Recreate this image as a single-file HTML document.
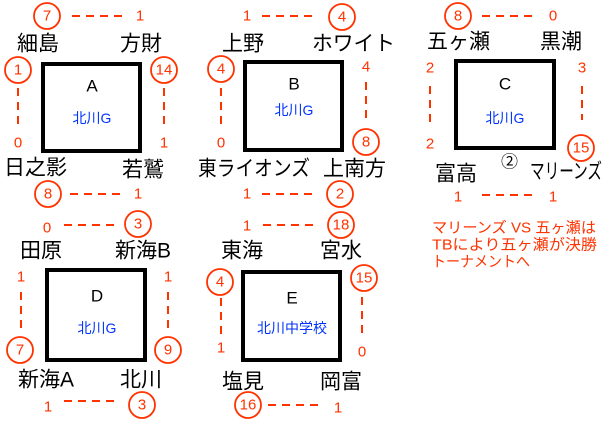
<!DOCTYPE html>
<html><head><meta charset="utf-8"><style>
html,body{margin:0;padding:0;background:#fff;}
svg{display:block;}
.t{font-family:"Liberation Sans","Noto Sans CJK JP",sans-serif;font-size:21px;fill:#000;dominant-baseline:central;}
.r{font-family:"Liberation Sans",sans-serif;font-size:15px;fill:#ff3300;text-anchor:middle;dominant-baseline:central;}
.l{font-family:"Liberation Sans",sans-serif;font-size:17px;fill:#000;text-anchor:middle;dominant-baseline:central;}
.b{font-family:"Liberation Sans","Noto Sans CJK JP",sans-serif;font-size:14px;fill:#0033ff;text-anchor:middle;dominant-baseline:central;}
.n{font-family:"Liberation Sans","Noto Sans CJK JP",sans-serif;font-size:15px;fill:#ff3300;dominant-baseline:central;}
circle{fill:none;stroke:#ff3300;stroke-width:1.8;}
.d{stroke:#ff3300;stroke-width:2;stroke-dasharray:8,6;fill:none;}
rect{fill:none;stroke:#000;stroke-width:4;}
</style></head><body>
<svg width="607" height="427" viewBox="0 0 607 427">
<!-- A -->
<rect x="43" y="64" width="97" height="87"/>
<text class="l" x="92" y="86">A</text><text class="b" x="92" y="118">北川G</text>
<circle cx="47" cy="16" r="13"/><text class="r" x="47" y="16">7</text>
<line class="d" x1="72" y1="16" x2="124" y2="16"/><text class="r" x="140" y="16">1</text>
<text class="t" x="17" y="44">細島</text><text class="t" x="120" y="44">方財</text>
<circle cx="18" cy="70" r="13"/><text class="r" x="18" y="70">1</text>
<line class="d" x1="18" y1="88" x2="18" y2="128"/><text class="r" x="18" y="143">0</text>
<circle cx="164" cy="70" r="13"/><text class="r" x="164" y="70">14</text>
<line class="d" x1="164" y1="88" x2="164" y2="128"/><text class="r" x="164" y="143">1</text>
<text class="t" x="4" y="168">日之影</text><text class="t" x="122" y="170">若鷲</text>
<circle cx="48" cy="194" r="13"/><text class="r" x="48" y="194">8</text>
<line class="d" x1="70" y1="194" x2="122" y2="194"/><text class="r" x="138" y="194">1</text>
<!-- B -->
<rect x="245" y="62" width="97" height="88"/>
<text class="l" x="294" y="84">B</text><text class="b" x="294" y="110">北川G</text>
<text class="r" x="247" y="16">1</text><line class="d" x1="262" y1="16" x2="314" y2="16"/>
<circle cx="342" cy="17" r="13"/><text class="r" x="342" y="17">4</text>
<text class="t" x="222" y="44">上野</text><text class="t" x="312" y="44" textLength="83" lengthAdjust="spacingAndGlyphs">ホワイト</text>
<circle cx="221" cy="69" r="13"/><text class="r" x="221" y="69">4</text>
<line class="d" x1="221" y1="88" x2="221" y2="128"/><text class="r" x="221" y="143">0</text>
<text class="r" x="366" y="67">4</text><line class="d" x1="366" y1="82" x2="366" y2="120"/>
<circle cx="366" cy="142" r="13"/><text class="r" x="366" y="142">8</text>
<text class="t" x="198" y="169" textLength="112" lengthAdjust="spacingAndGlyphs">東ライオンズ</text><text class="t" x="323" y="169">上南方</text>
<text class="r" x="247" y="194">1</text><line class="d" x1="262" y1="194" x2="314" y2="194"/>
<circle cx="340" cy="194" r="13"/><text class="r" x="340" y="194">2</text>
<!-- C -->
<rect x="456" y="61" width="98" height="87"/>
<text class="l" x="505" y="84">C</text><text class="b" x="505" y="118">北川G</text>
<circle cx="458" cy="16" r="13"/><text class="r" x="458" y="16">8</text>
<line class="d" x1="482" y1="16" x2="532" y2="16"/><text class="r" x="553" y="16">0</text>
<text class="t" x="427" y="42">五ヶ瀬</text><text class="t" x="540" y="42">黒潮</text>
<text class="r" x="430" y="68">2</text><line class="d" x1="430" y1="86" x2="430" y2="122"/><text class="r" x="430" y="144">2</text>
<text class="r" x="582" y="68">3</text><line class="d" x1="582" y1="86" x2="582" y2="120"/>
<circle cx="581" cy="148" r="13"/><text class="r" x="581" y="148">15</text>
<text class="t" x="435" y="174">富高</text>
<text class="t" x="501" y="162" style="font-size:17px">②</text>
<text class="t" x="530" y="172" textLength="72" lengthAdjust="spacingAndGlyphs">マリーンズ</text>
<text class="r" x="458" y="197">1</text><line class="d" x1="482" y1="195" x2="532" y2="195"/><text class="r" x="553" y="197">1</text>
<text class="n" x="432" y="228" textLength="164" lengthAdjust="spacingAndGlyphs">マリーンズ  VS  五ヶ瀬は</text>
<text class="n" x="432" y="245" textLength="165" lengthAdjust="spacingAndGlyphs">TBにより五ヶ瀬が決勝</text>
<text class="n" x="432" y="262" textLength="98" lengthAdjust="spacingAndGlyphs">トーナメントへ</text>
<!-- D -->
<rect x="47" y="270" width="98" height="90"/>
<text class="l" x="97" y="296">D</text><text class="b" x="97" y="328">北川G</text>
<text class="r" x="47" y="228">0</text><line class="d" x1="64" y1="225" x2="118" y2="225"/>
<circle cx="138" cy="224" r="13"/><text class="r" x="138" y="224">3</text>
<text class="t" x="20" y="251">田原</text><text class="t" x="115" y="251">新海B</text>
<text class="r" x="21" y="277">1</text><line class="d" x1="21" y1="292" x2="21" y2="332"/>
<circle cx="20" cy="350" r="13"/><text class="r" x="20" y="350">7</text>
<text class="r" x="168" y="277">1</text><line class="d" x1="168" y1="292" x2="168" y2="332"/>
<circle cx="168" cy="350" r="13"/><text class="r" x="168" y="350">9</text>
<text class="t" x="18" y="380">新海A</text><text class="t" x="120" y="380">北川</text>
<text class="r" x="48" y="407">1</text><line class="d" x1="64" y1="401" x2="116" y2="401"/>
<circle cx="142" cy="405" r="13"/><text class="r" x="142" y="405">3</text>
<!-- E -->
<rect x="243" y="272" width="97" height="88"/>
<text class="l" x="292" y="298">E</text><text class="b" x="292" y="328">北川中学校</text>
<text class="r" x="247" y="226">1</text><line class="d" x1="263" y1="225" x2="315" y2="225"/>
<circle cx="341" cy="225" r="13"/><text class="r" x="341" y="225">18</text>
<text class="t" x="221" y="251">東海</text><text class="t" x="320" y="251">宮水</text>
<circle cx="220" cy="282" r="13"/><text class="r" x="220" y="282">4</text>
<line class="d" x1="221" y1="298" x2="221" y2="334"/><text class="r" x="221" y="348">1</text>
<circle cx="364" cy="278" r="13"/><text class="r" x="364" y="278">15</text>
<line class="d" x1="362" y1="297" x2="362" y2="335"/><text class="r" x="362" y="352">0</text>
<text class="t" x="222" y="382">塩見</text><text class="t" x="320" y="382">岡富</text>
<circle cx="248" cy="405" r="13"/><text class="r" x="248" y="405">16</text>
<line class="d" x1="268" y1="405" x2="322" y2="405"/><text class="r" x="338" y="408">1</text>
</svg>
</body></html>
